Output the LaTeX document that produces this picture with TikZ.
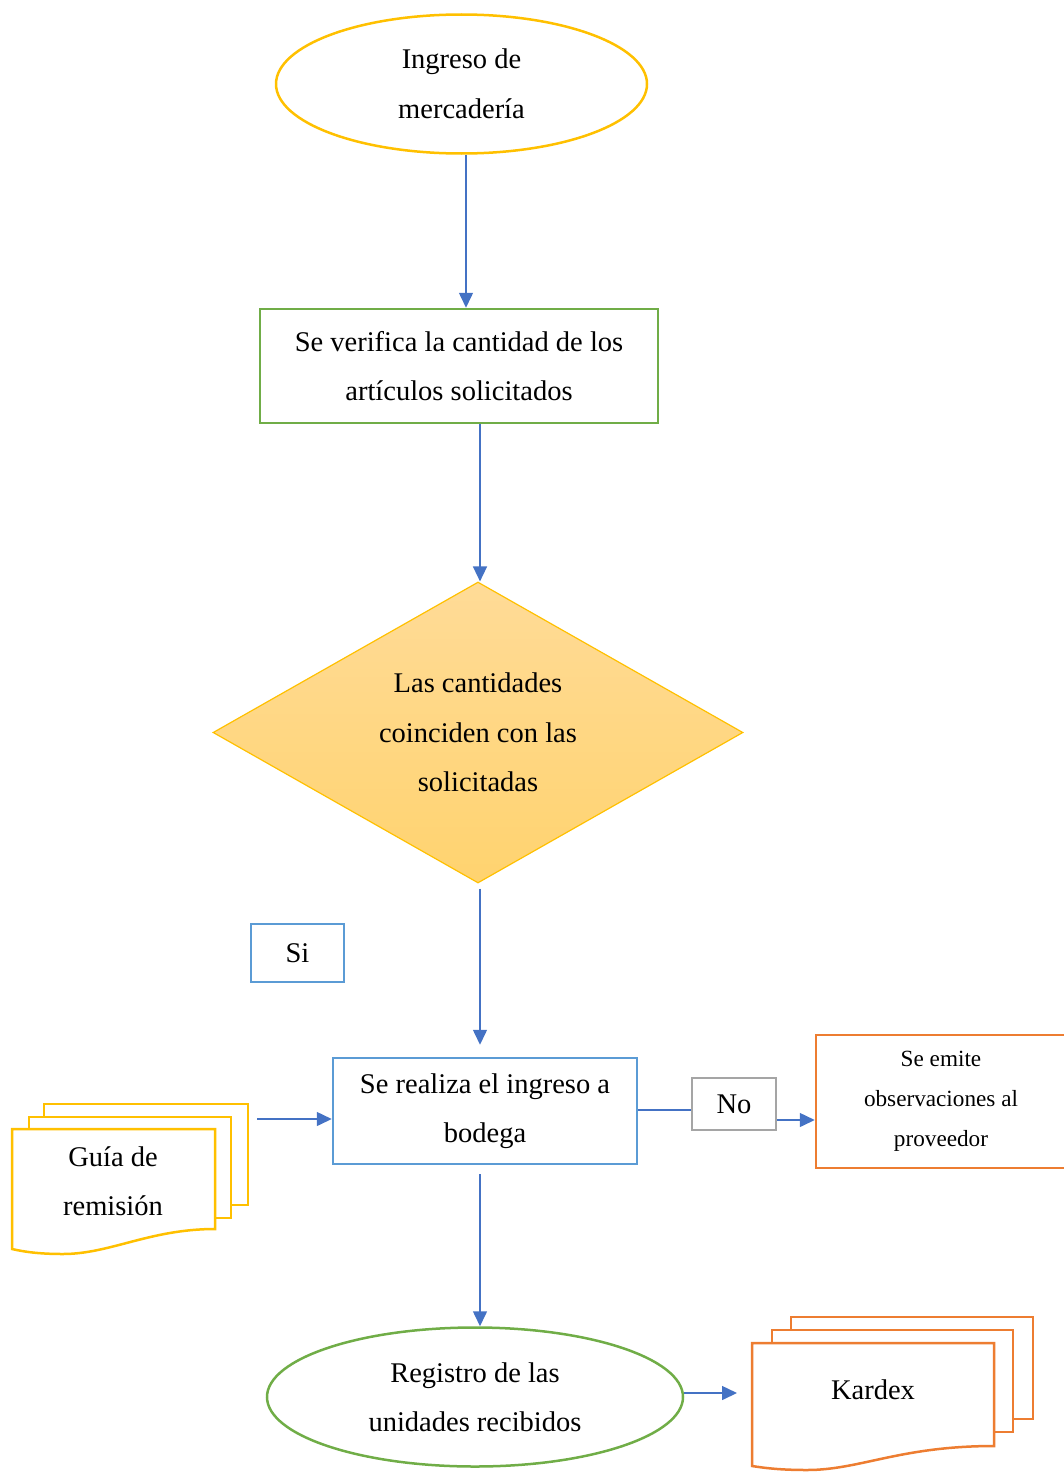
\documentclass[tikz,border=0pt]{standalone}
\usepackage{fontspec}
\setmainfont{Liberation Serif}
\usepackage{tikz}
\usetikzlibrary{positioning,
  shapes.geometric,
  arrows.meta
}
\definecolor{oro}{HTML}{FFC000}
\definecolor{verde}{HTML}{70AD47}
\definecolor{azul}{HTML}{4472C4}
\definecolor{celeste}{HTML}{5B9BD5}
\definecolor{gris}{HTML}{A5A5A5}
\definecolor{naranja}{HTML}{ED7D31}
\definecolor{crema1}{HTML}{FFDB97}
\definecolor{crema2}{HTML}{FFD36F}

\begin{document}
\begin{tikzpicture}[x=1pt, y=-1pt,
  texto/.style={font=\fontsize{28.5}{49.5}\selectfont, align=center, inner sep=0pt},
  inicio/.style={texto, ellipse, draw=#1, line width=2.5pt, minimum height=139pt},
  proceso/.style={texto, rectangle, draw=#1, line width=2.5pt},
  decision/.style={texto, diamond, aspect=1.76, draw=oro, line width=1.2pt,
    top color=crema1, bottom color=crema2, minimum width=530pt, minimum height=301pt},
  flecha/.style={draw=azul, line width=1.5pt, -{Triangle[length=15pt, width=14pt]}},
  linea/.style={draw=azul, line width=1.5pt},
  hoja/.style={draw=#1, line width=2.5pt, fill=white}]

  \useasboundingbox (0,0) rectangle (1064,1472);

  \node[inicio=oro, minimum width=371pt] (ing) at (461.5,84) {Ingreso de\\mercadería};
  \node[proceso=verde, minimum width=398pt, minimum height=114pt] (ver) at (459,366)
    {Se verifica la cantidad de los\\artículos solicitados};
  \node[decision] (dec) at (478,732.5) {Las cantidades\\coinciden con las\\solicitadas};
  \node[proceso=celeste, minimum width=93pt, minimum height=58pt] (si) at (297.5,953) {Si};
  \node[proceso=celeste, minimum width=304pt, minimum height=106pt] (bod) at (485,1111)
    {Se realiza el ingreso a\\bodega};
  \node[proceso=gris, minimum width=84pt, minimum height=52pt] (no) at (734,1104) {No};
  \node[proceso=naranja, minimum width=250pt, minimum height=133pt,
    font=\fontsize{23.2}{40}\selectfont] (obs) at (941,1101.5)
    {Se emite\\observaciones al\\proveedor};
  \node[inicio=verde, minimum width=416pt] (reg) at (475,1397) {Registro de las\\unidades recibidos};

  % guia de remision
  \draw[hoja=oro] (44,1104) rectangle (248,1205);
  \draw[hoja=oro] (29,1117) rectangle (231,1218);
  \draw[hoja=oro] (12,1129) -- (215,1129) -- (215,1229)
    .. controls (150,1229) and (110,1254) .. (63,1254)
    .. controls (40,1254) and (25,1252) .. (12,1249) -- cycle;
  \node[texto] (guia) at (113,1181) {Guía de\\remisión};
  \coordinate (g1) at (257,1119);

  % kardex
  \draw[hoja=naranja] (791,1317) rectangle (1033,1419);
  \draw[hoja=naranja] (772,1330) rectangle (1013,1432);
  \draw[hoja=naranja] (752,1343) -- (994,1343) -- (994,1446)
    .. controls (900,1446) and (860,1470) .. (807,1470)
    .. controls (780,1470) and (765,1468) .. (752,1466) -- cycle;
  \node[texto] (kar) at (873,1390) {Kardex};
  \coordinate (k1) at (737,1393);

  \draw[flecha] ([xshift=4.5pt]ing.south) -- ([xshift=7pt]ver.north);
  \draw[flecha] ([xshift=21pt]ver.south) -- ([xshift=2pt]dec.north);
  \draw[flecha] ([xshift=2pt, yshift=-5pt]dec.south) -- ([xshift=-5pt, yshift=12pt]bod.north);
  \draw[flecha] ([xshift=-5pt, yshift=-9pt]bod.south) -- ([xshift=5pt]reg.north);
  \draw[linea] ([yshift=1pt]bod.east) -- ([yshift=1pt]bod.east -| no.west);
  \draw[flecha] ([yshift=-16pt]no.east) -- ([yshift=-16pt]no.east -| obs.west);
  \draw[flecha] (g1) -- (g1 -| bod.west);
  \draw[flecha] (reg.east |- k1) -- (k1);

\end{tikzpicture}
\end{document}
